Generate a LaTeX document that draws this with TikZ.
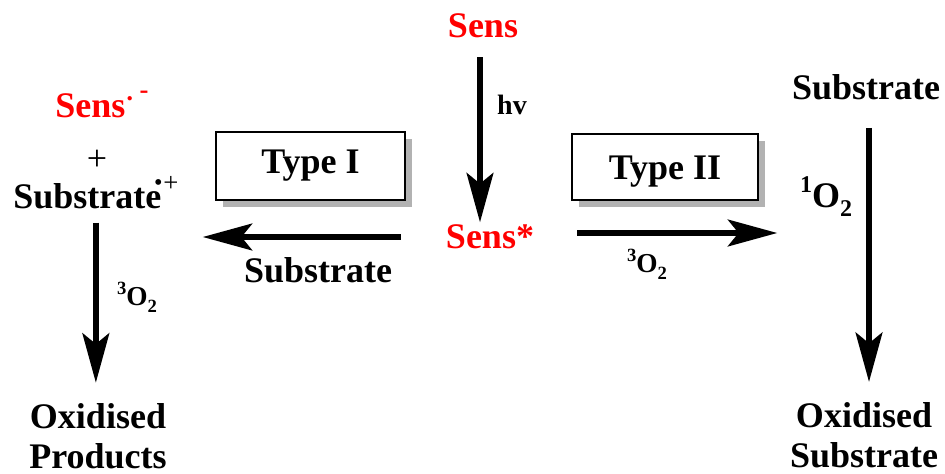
\documentclass[tikz,border=0pt]{standalone}
\usepackage{fontspec}
\setmainfont{Liberation Serif}
\usetikzlibrary{arrows.meta,shadows}
% raised and lowered small figures for spin and subscript labels
\newcommand{\supfig}[2][14]{\raisebox{0.42em}{\fontsize{#1}{#1}\selectfont #2}}
\newcommand{\subfig}[2][14]{\raisebox{-0.25em}{\fontsize{#1}{#1}\selectfont #2}}
\begin{document}
\begin{tikzpicture}[x=0.75pt,y=-0.75pt,
  every node/.style={inner sep=0pt, font=\fontsize{27}{30}\selectfont\bfseries},
  lbl/.style={font=\fontsize{20.5}{24}\selectfont\bfseries},
  hvlbl/.style={font=\fontsize{21}{24}\selectfont\bfseries},
  sensor/.style={text=red},
  arr/.style={line width=4.5pt, -{Stealth[length=37pt,width=20pt,inset=8pt]}},
  typebox/.style={draw, line width=1.1pt, fill=white,
    drop shadow={shadow xshift=5pt, shadow yshift=-5pt, fill=black!30, opacity=1}}
]
\useasboundingbox (0,0) rectangle (945,474);

% sensitiser and its excited state
\node[sensor] (sens) at (483,26) {Sens};
\node[sensor] (senss) at (490,237) {Sens*};
\draw[arr] ([shift={(-3,19)}]sens.south) -- ++(0,165);
\node[hvlbl] (hv) at (512,105) {hv};

% type I branch
\node[typebox, minimum width=142pt, minimum height=51pt] (t1) at (310.5,166) {Type I};
\draw[arr] ([shift={(-45,0)}]senss.west) -- ++(-198,0);
\node (subLbl) at (318,270) {Substrate};

\node[sensor, anchor=base west] (sensL) at (55,118)
  {Sens\raisebox{0.3em}{\fontsize{20}{20}\selectfont ·}\hspace{4pt}\raisebox{0.55em}{\fontsize{20}{20}\selectfont -}};
\node (plus) at (97,160) {\mdseries +};
\node[anchor=base west] (subL) at (13,208)
  {Substrate\hspace{-5pt}\raisebox{0.5em}{\fontsize{16}{16}\selectfont •}\hspace{1pt}\raisebox{0.45em}{\fontsize{20}{20}\selectfont\mdseries +}};
\draw[arr] ([shift={(0,14)}]subL.south) -- ++(0,160);
\node[lbl] (o3L) at (137,297) {\supfig{3}O\subfig{2}};
\node[align=center] (oxP) at (98,436) {Oxidised\\Products};

% type II branch
\node[typebox, minimum width=139.5pt, minimum height=49.5pt,
      text height=19.5pt, text depth=0pt] (t2) at (665,167) {Type II};
\draw[arr] ([shift={(43,-4)}]senss.east) -- ++(200,0);
\node[lbl] (o3R) at (647,264) {\supfig{3}O\subfig{2}};

\node (subR) at (866,87) {Substrate};
\draw[arr] ([shift={(3,28)}]subR.south) -- ++(0,254);
\node (o1) at (826,197) {\supfig[18]{1}O\subfig[18]{2}};
\node[align=center] (oxS) at (864,435) {Oxidised\\Substrate};
\end{tikzpicture}
\end{document}
